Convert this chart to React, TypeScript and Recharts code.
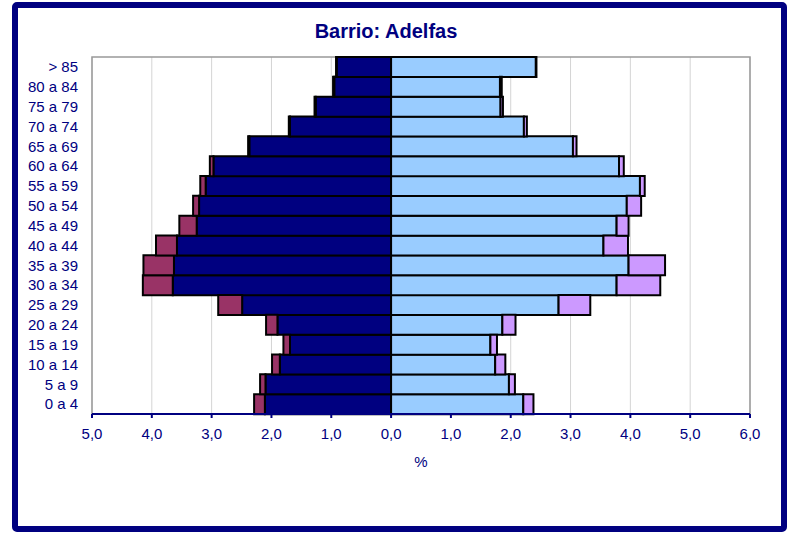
import { Bar, BarChart, CartesianGrid, ReferenceArea, XAxis, YAxis } from "recharts"

const ages = [
    "0 a 4", "5 a 9", "10 a 14", "15 a 19", "20 a 24", "25 a 29", "30 a 34", "35 a 39", "40 a 44",
    "45 a 49", "50 a 54", "55 a 59", "60 a 64", "65 a 69", "70 a 74", "75 a 79", "80 a 84", "> 85",
]

// hombres (lado izquierdo), en %
const menNative = [2.11, 2.10, 1.86, 1.69, 1.90, 2.49, 3.65, 3.63, 3.58, 3.25, 3.21, 3.10, 2.97, 2.37, 1.69, 1.26, 0.95, 0.91]
const menForeign = [0.18, 0.09, 0.13, 0.11, 0.19, 0.40, 0.50, 0.51, 0.35, 0.29, 0.10, 0.09, 0.06, 0.02, 0.02, 0.02, 0.02, 0.01]

// mujeres (lado derecho), en %
const womenNative = [2.21, 1.97, 1.74, 1.66, 1.86, 2.80, 3.77, 3.97, 3.55, 3.77, 3.94, 4.16, 3.81, 3.04, 2.22, 1.83, 1.82, 2.42]
const womenForeign = [0.17, 0.10, 0.17, 0.11, 0.22, 0.53, 0.73, 0.61, 0.41, 0.20, 0.24, 0.08, 0.08, 0.06, 0.05, 0.04, 0.03, 0.01]

const xTicks = [-5, -4, -3, -2, -1, 0, 1, 2, 3, 4, 5, 6]

const data = ages.map((age, i) => ({
    age,
    menNative: -menNative[i],
    menForeign: -menForeign[i],
    womenNative: womenNative[i],
    womenForeign: womenForeign[i],
}))

const navy = "#000080"
const font = "'Liberation Sans', Arial, sans-serif"

export default function App() {
    return (
        <div
            style={{
                position: "absolute",
                left: 12,
                top: 2,
                width: 775,
                height: 530,
                border: `6px solid ${navy}`,
                borderRadius: 5,
                boxSizing: "border-box",
                background: "#fff",
                fontFamily: font,
            }}
        >
            <div
                style={{
                    position: "absolute",
                    top: 12,
                    left: 0,
                    width: 736,
                    textAlign: "center",
                    color: navy,
                    fontWeight: "bold",
                    fontSize: 20,
                }}
            >
                Barrio: Adelfas
            </div>
            <BarChart
                width={763}
                height={518}
                data={data}
                layout="vertical"
                stackOffset="sign"
                barCategoryGap={0}
                barGap={0}
                margin={{ top: 49, right: 31, left: 0, bottom: 52 }}
            >
                <CartesianGrid horizontal={false} stroke="#d4d4d4" />
                <ReferenceArea x1={-5} x2={6} fill="none" stroke="#999999" strokeWidth={1.5} />
                <XAxis
                    type="number"
                    domain={[-5, 6]}
                    ticks={xTicks}
                    allowDataOverflow
                    interval={0}
                    tickFormatter={(v) => Math.abs(v).toFixed(1).replace(".", ",")}
                    tick={{ fill: navy, fontSize: 15, fontFamily: font }}
                    stroke={navy}
                    axisLine={{ stroke: navy, strokeWidth: 2 }}
                    tickLine={{ stroke: navy, strokeWidth: 2 }}
                    tickSize={4}
                    tickMargin={10}
                    height={60}
                    label={{ value: "%", position: "insideBottom", offset: 7, fill: navy, fontSize: 15, fontFamily: font }}
                />
                <YAxis
                    type="category"
                    dataKey="age"
                    reversed
                    width={74}
                    axisLine={false}
                    tickLine={false}
                    interval={0}
                    tickMargin={8}
                    tick={{ fill: navy, fontSize: 15, fontFamily: font }}
                />
                <Bar dataKey="menNative" stackId="a" fill={navy} stroke="#000" strokeWidth={2} isAnimationActive={false} />
                <Bar dataKey="menForeign" stackId="a" fill="#993366" stroke="#000" strokeWidth={2} isAnimationActive={false} />
                <Bar dataKey="womenNative" stackId="a" fill="#99CCFF" stroke="#000" strokeWidth={2} isAnimationActive={false} />
                <Bar dataKey="womenForeign" stackId="a" fill="#CC99FF" stroke="#000" strokeWidth={2} isAnimationActive={false} />
            </BarChart>
        </div>
    )
}
